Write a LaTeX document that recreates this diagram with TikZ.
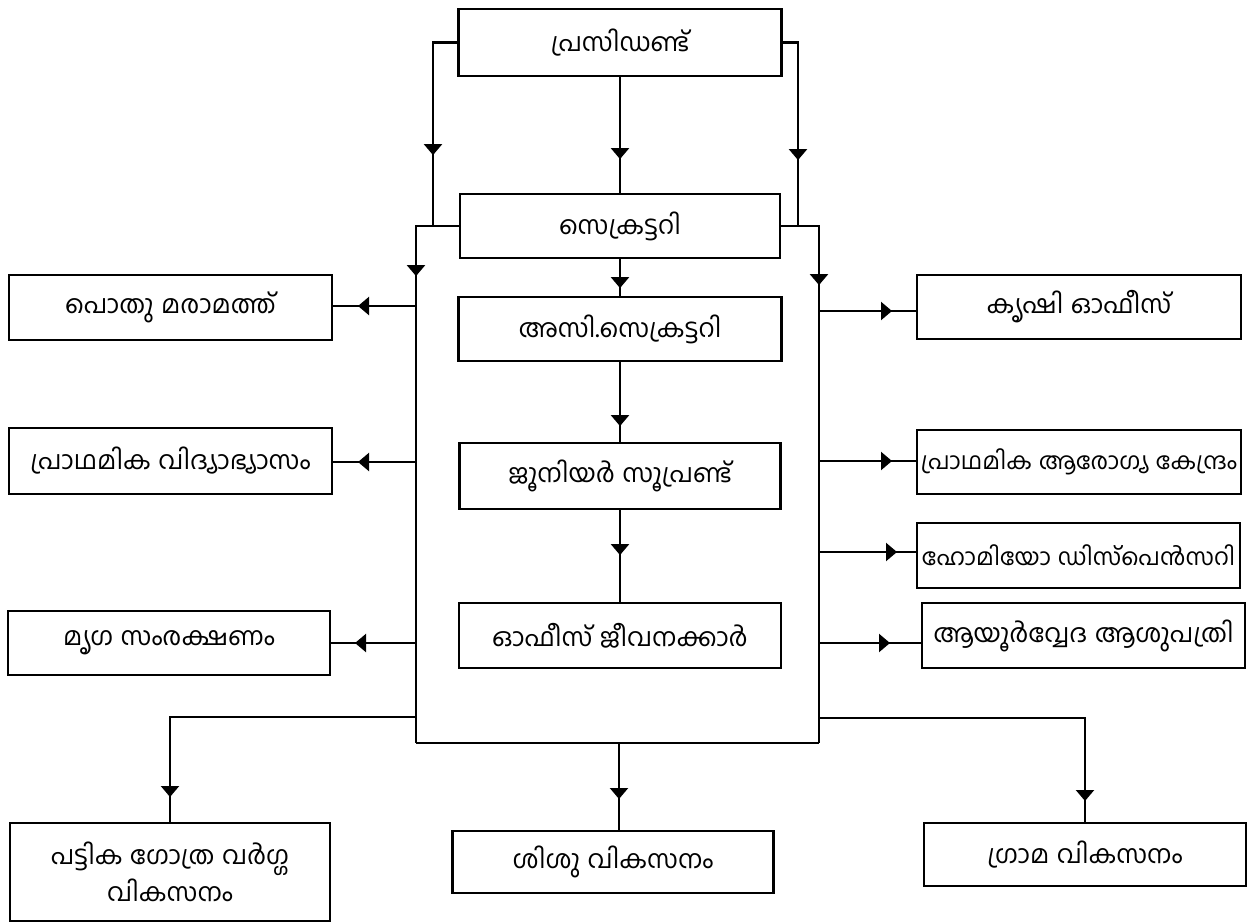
\documentclass[tikz,border=0pt]{standalone}
\usepackage{fontspec}
\newfontfamily\mlfont[Script=Malayalam,WordSpace=1.6]{Hind Kochi}
\newfontfamily\mlnarrow[Script=Malayalam,WordSpace=1.2]{Hind Kochi}
\usetikzlibrary{arrows.meta,decorations.markings,calc}
\tikzset{
  box/.style={draw, line width=2.2pt, rectangle, inner sep=2pt, align=center,
    font=\mlfont\fontsize{25.5}{37}\selectfont},
  tight/.style={inner sep=1pt, font=\mlnarrow\fontsize{23.5}{30}\selectfont},
  conn/.style={line width=2.2pt},
  tipat/.style={postaction={decorate}, decoration={markings,
    mark=at position #1 with {\arrow{Triangle[width=18pt,length=11pt]}}}},
}
\begin{document}
\begin{tikzpicture}[x=1pt,y=-1pt]
\useasboundingbox (0,0) rectangle (1247,922);
% centre column
\node[box, minimum width=323pt, minimum height=67pt] (P) at (620,42.5) {പ്രസിഡണ്ട്};
\node[box, minimum width=320pt, minimum height=64pt] (S) at (620,226) {സെക്രട്ടറി};
\node[box, minimum width=323pt, minimum height=64pt] (A) at (620,329) {അസി.സെക്രട്ടറി};
\node[box, minimum width=321pt, minimum height=66pt] (J) at (620,476) {ജൂനിയർ സൂപ്രണ്ട്};
\node[box, minimum width=322pt, minimum height=65pt] (O) at (620,635.5) {ഓഫീസ് ജീവനക്കാർ};
% left column
\node[box, minimum width=323pt, minimum height=65pt] (L1) at (170.5,307.5) {പൊതു മരാമത്ത്};
\node[box, minimum width=323pt, minimum height=66pt] (L2) at (170.5,461) {പ്രാഥമിക വിദ്യാഭ്യാസം};
\node[box, minimum width=322pt, minimum height=64pt] (L3) at (169,643) {മൃഗ സംരക്ഷണം};
% right column
\node[box, minimum width=324pt, minimum height=64pt] (R1) at (1079,307) {കൃഷി ഓഫീസ്};
\node[box, tight, minimum width=324pt, minimum height=64pt] (R2) at (1079,462) {പ്രാഥമിക ആരോഗ്യ കേന്ദ്രം};
\node[box, tight, minimum width=323pt, minimum height=65pt] (R3) at (1078.5,555.5) {ഹോമിയോ ഡിസ്പെൻസറി};
\node[box, minimum width=323pt, minimum height=65pt] (R4) at (1083.5,635.5) {ആയൂർവ്വേദ ആശുപത്രി};
% bottom row
\node[box, minimum width=320pt, minimum height=98pt] (B1) at (170,872) {പട്ടിക ഗോത്ര വർഗ്ഗ\\വികസനം};
\node[box, minimum width=321pt, minimum height=62pt] (B2) at (613,862) {ശിശു വികസനം};
\node[box, minimum width=322pt, minimum height=63pt] (B3) at (1085,854.5) {ഗ്രാമ വികസനം};
% junction coordinates
\coordinate (lj) at (433,226);
\coordinate (rj) at (798,226);
\coordinate (BL) at (416,743);
\coordinate (BR) at (819,743);
\coordinate (l1) at (416,306);
\coordinate (l2) at (416,462);
\coordinate (l3) at (416,643);
\coordinate (r1) at (819,311);
\coordinate (r2) at (819,461);
\coordinate (r3) at (819,552);
\coordinate (r4) at (819,643);
\coordinate (bl) at (416,717);
\coordinate (br) at (819,718);
\coordinate (bc) at (619,743);
% president connectors
\draw[conn, tipat=82pt] (P) -- (S);
\draw[conn, tipat=137pt] (P.west) -| (lj);
\draw[conn, tipat=133pt] (P.east) -| (rj);
% frame
\draw[conn, tipat=93pt] (S.west) -| (BL);
\draw[conn] (BL) -- (BR);
\draw[conn, tipat=97pt] (S.east) -| (BR);
% chain
\draw[conn, tipat=29pt] (S) -- (A);
\draw[conn, tipat=64pt] (A) -- (J);
\draw[conn, tipat=45pt] (J) -- (O);
% left branches
\draw[conn, tipat=58pt] (l1) -- (l1 -| L1.east);
\draw[conn, tipat=58pt] (l2) -- (l2 -| L2.east);
\draw[conn, tipat=61pt] (l3) -- (l3 -| L3.east);
% right branches
\draw[conn, tipat=73pt] (r1) -- (r1 -| R1.west);
\draw[conn, tipat=73pt] (r2) -- (r2 -| R2.west);
\draw[conn, tipat=78pt] (r3) -- (r3 -| R3.west);
\draw[conn, tipat=71pt] (r4) -- (r4 -| R4.west);
% bottom branches
\draw[conn, tipat=326pt] (bl) -| (B1.north);
\draw[conn, tipat=56pt] (bc) -- (bc |- B2.north);
\draw[conn, tipat=349pt] (br) -| (B3.north);
\end{tikzpicture}
\end{document}
